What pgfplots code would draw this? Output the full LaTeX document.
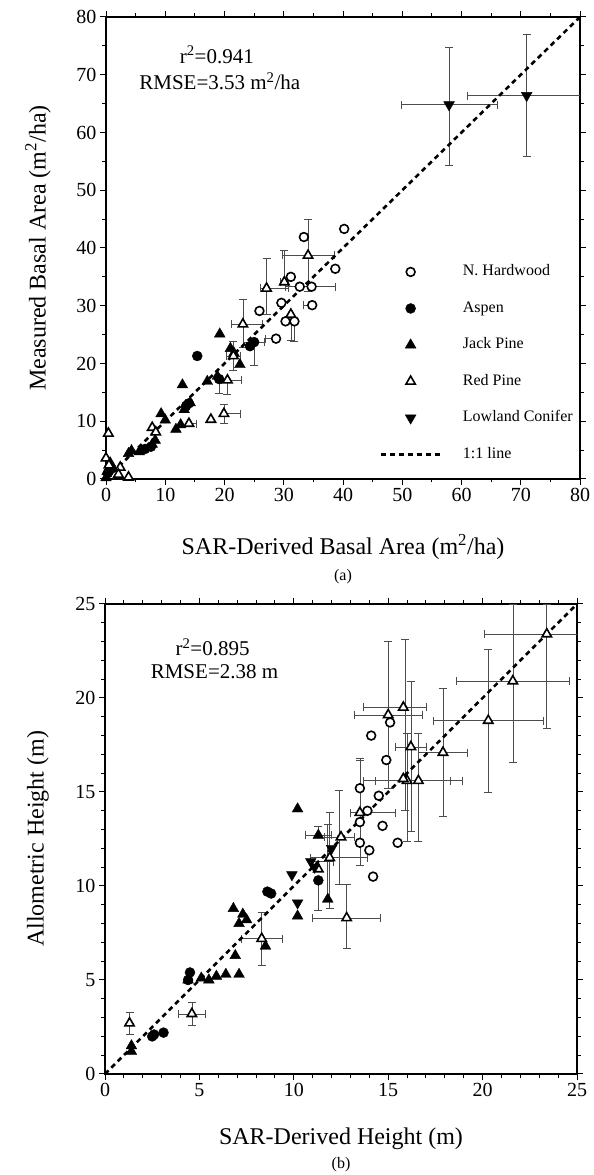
\documentclass[border=0pt]{standalone}
\usepackage{pgfplots}
\pgfplotsset{compat=1.18}
\usepackage{fontspec}
\setmainfont{Liberation Serif}
\newcommand{\fs}[1]{\fontsize{#1}{#1}\selectfont}
\pgfplotsset{
  panel/.style={
    scale only axis, clip mode=individual,
    axis line style={line width=1.4pt},
    every tick/.style={black, line width=1pt},
    tick align=outside, tick pos=both,
    major tick length=6pt, minor tick length=3.5pt,
    /pgf/number format/assume math mode=true,
    tick label style={font=\fs{20}},
    label style={font=\fs{24}},
  },
  hw/.style={only marks, mark=*, mark size=4.4pt, mark options={draw=black, fill=white, line width=1.6pt}},
  asp/.style={only marks, mark=*, mark size=5pt, mark options={draw=black, fill=black}},
  jp/.style={only marks, mark=triangle*, mark size=6.2pt, mark options={draw=black, fill=black}},
  rp/.style={only marks, mark=triangle*, mark size=5.4pt, mark options={draw=black, fill=white, line width=1.6pt}},
  lc/.style={only marks, mark=triangle*, mark size=6.2pt, mark options={draw=black, fill=black, rotate=180}},
  oneline/.style={black, line width=2.6pt, dash pattern=on 5pt off 4pt},
  ebars/.style={only marks, mark=none, forget plot,
    error bars/.cd, x dir=both, y dir=both, x explicit, y explicit,
    error bar style={line width=0.6pt, black!70},
    error mark options={line width=0.6pt, black!70, mark size=4pt, rotate=90}},
}
\begin{document}
\begin{tikzpicture}
\useasboundingbox (0pt,0pt) rectangle (594pt,1175pt);
% ---------------- panel (a)
\begin{axis}[panel, anchor=south west, at={(106pt,696pt)}, width=474pt, height=462pt,
  xmin=0, xmax=80, ymin=0, ymax=80,
  xtick={0,10,...,80}, ytick={0,10,...,80}, minor tick num=1,
  xlabel={SAR-Derived Basal Area (m\textsuperscript{2}/ha)},
  ylabel={Measured Basal Area (m\textsuperscript{2}/ha)},
  xlabel style={at={(axis description cs:0.5,-0.148)}, anchor=center},
  ylabel style={at={(axis description cs:-0.1435,0.5)}, anchor=center},
  legend style={draw=none, fill=none, at={(axis cs:46.1,37.4)}, anchor=north west,
    font=\fs{16}, row sep=19pt, column sep=19pt, inner sep=0pt,
    nodes={inner sep=2pt, text height=10.5pt, text depth=3pt}},
  legend cell align=left,
  legend image code/.code={\draw[mark repeat=2,mark phase=2,#1] plot coordinates {(0pt,0pt) (30pt,0pt) (60pt,0pt)};},
]
\addplot[ebars] table[x=x, y=y, x error plus=exp, x error minus=exm, y error plus=eyp, y error minus=eym] {
x y exp exm eyp eym
57.9 64.8 8.1 8.1 10.0 10.5
71.0 66.4 9.0 10.0 10.6 10.6
34.1 38.7 4.4 4.4 6.2 6.2
27.1 33.0 3.6 1.0 5.3 4.5
23.1 26.8 3.2 2.0 4.3 4.0
30.1 34.1 0.6 0.6 5.5 0
31.2 28.5 0 0 0 4.4
21.5 21.3 1.2 1.2 2.5 2.5
20.5 17.1 2.3 1.0 0 2.5
19.9 11.3 2.7 0 1.6 1.6
14.0 9.6 1.2 0 0 0
34.7 33.3 4.0 4.5 0 0
31.8 27.3 0 0 0 3.5
28.7 24.3 0 1.8 0 0
34.8 30.1 0 1.5 0 0
25.0 23.7 1.8 1.8 0 4.0
19.1 17.3 0 0 0 2.5
};
\addplot[oneline, forget plot] coordinates {(0,0) (80,80)};
\addplot[hw, forget plot] coordinates {(40.2,43.3) (33.4,41.9) (38.7,36.4) (31.2,35.0) (32.7,33.3) (34.7,33.3) (29.6,30.5) (34.8,30.1) (25.9,29.1) (30.3,27.3) (31.8,27.3) (28.7,24.3)};
\addplot[asp, forget plot] coordinates {(15.4,21.3) (25.0,23.7) (24.3,23.0) (19.1,17.3) (14.0,13.1) (13.5,12.6) (7.6,5.6) (6.6,5.2) (0.3,1.0)};
\addplot[jp, forget plot] coordinates {(19.2,25.1) (12.9,16.3) (21.0,22.6) (21.6,21.8) (22.6,19.8) (17.1,16.9) (18.8,17.8) (9.3,11.3) (10.0,10.2) (11.8,8.6) (12.6,9.4) (13.2,12.0) (14.2,13.2) (8.3,6.7) (7.8,6.0) (4.3,4.9) (3.8,4.4) (5.6,4.7) (0.7,2.8) (0.2,1.3) (1.2,1.8) (0.0,0.2)};
\addplot[rp, forget plot] coordinates {(34.1,38.7) (30.1,34.1) (27.1,33.0) (31.2,28.5) (23.1,26.8) (21.5,21.3) (20.5,17.1) (19.9,11.3) (17.7,10.3) (14.0,9.6) (7.8,8.9) (8.4,8.1) (0.4,7.9) (0.0,3.6) (2.4,2.0) (2.1,0.8) (3.8,0.3) (0.5,2.4)};
\addplot[lc, forget plot] coordinates {(57.9,64.8) (71.0,66.4)};
\addlegendimage{hw}\addlegendentry{N. Hardwood}
\addlegendimage{asp}\addlegendentry{Aspen}
\addlegendimage{jp}\addlegendentry{Jack Pine}
\addlegendimage{rp}\addlegendentry{Red Pine}
\addlegendimage{lc}\addlegendentry{Lowland Conifer}
\addlegendimage{oneline}\addlegendentry{1:1 line}
\node[font=\fs{21}] at (axis cs:18.7,73.5) {r\textsuperscript{2}=0.941};
\node[font=\fs{21}] at (axis cs:19.2,68.9) {RMSE=3.53 m\textsuperscript{2}/ha};
\node[font=\fs{16}] at (axis description cs:0.5,-0.211) {(a)};
\end{axis}
% ---------------- panel (b)
\begin{axis}[panel, anchor=south west, at={(105pt,101pt)}, width=472pt, height=470pt,
  xmin=0, xmax=25, ymin=0, ymax=25,
  xtick={0,5,...,25}, ytick={0,5,...,25}, minor tick num=4,
  xlabel={SAR-Derived Height (m)},
  ylabel={Allometric Height (m)},
  xlabel style={at={(axis description cs:0.5,-0.1374)}, anchor=center},
  ylabel style={at={(axis description cs:-0.142,0.5)}, anchor=center},
]
\addplot[ebars] table[x=x, y=y, x error plus=exp, x error minus=exm, y error plus=eyp, y error minus=eym] {
x y exp exm eyp eym
23.4 23.4 1.6 3.3 1.6 5.0
21.6 20.9 3.0 3.0 4.1 4.3
20.3 18.8 2.9 2.9 3.8 3.8
17.9 17.1 1.3 1.3 3.4 3.4
15.9 19.5 1.1 2.2 3.6 5.5
15.0 19.1 1.8 1.8 3.9 3.9
16.2 17.4 0.8 0.8 3.5 4.5
16.0 15.6 2.3 2.3 2.5 3.2
16.6 15.6 2.3 2.3 2.5 3.2
13.5 13.9 1.9 0.5 2.8 2.8
12.4 12.6 0.8 0.8 2.5 2.5
11.9 11.5 2.0 1.0 2.4 2.7
12.8 8.3 1.8 1.8 1.8 1.6
8.3 7.2 1.1 1.1 1.4 1.4
4.6 3.2 0.7 0.7 0.6 0.6
1.3 2.7 0 0 0.6 0.6
11.3 12.7 0.7 0.7 0.5 0
11.3 10.3 0 0 0 1.6
10.9 11.3 1.2 0 0 0
13.5 15.2 0 0 1.6 0
11.8 9.3 0 0 4.0 0
};
\addplot[oneline] coordinates {(0,0) (25,25)};
\addplot[hw] coordinates {(14.1,18.0) (15.1,18.7) (14.9,16.7) (13.5,15.2) (14.5,14.8) (13.9,14.0) (13.5,13.4) (14.7,13.2) (13.5,12.3) (14.0,11.9) (15.5,12.3) (14.2,10.5)};
\addplot[asp] coordinates {(11.3,10.3) (8.6,9.7) (8.8,9.6) (4.5,5.4) (4.4,5.0) (3.1,2.2) (2.5,2.0) (2.6,2.1)};
\addplot[jp] coordinates {(10.2,14.1) (11.3,12.7) (11.8,9.3) (10.2,8.4) (6.8,8.8) (7.3,8.5) (7.1,8.0) (7.5,8.2) (8.5,6.8) (6.9,6.3) (7.1,5.3) (6.4,5.3) (5.9,5.2) (5.5,5.0) (5.1,5.1) (4.4,5.0) (1.4,1.2) (1.4,1.5)};
\addplot[rp] coordinates {(23.4,23.4) (21.6,20.9) (20.3,18.8) (15.8,19.5) (15.0,19.1) (16.2,17.4) (17.9,17.1) (16.0,15.6) (15.8,15.7) (16.6,15.6) (13.5,13.9) (12.5,12.6) (11.9,11.5) (11.3,10.9) (12.8,8.3) (8.3,7.2) (4.6,3.2) (1.3,2.7)};
\addplot[lc] coordinates {(10.9,11.3) (11.1,11.0) (9.9,10.6) (10.2,9.1) (12.0,12.0)};
\node[font=\fs{21}] at (axis cs:5.7,22.7) {r\textsuperscript{2}=0.895};
\node[font=\fs{21}] at (axis cs:5.8,21.4) {RMSE=2.38 m};
\node[font=\fs{16}] at (axis description cs:0.5,-0.193) {(b)};
\end{axis}
\end{tikzpicture}
\end{document}
